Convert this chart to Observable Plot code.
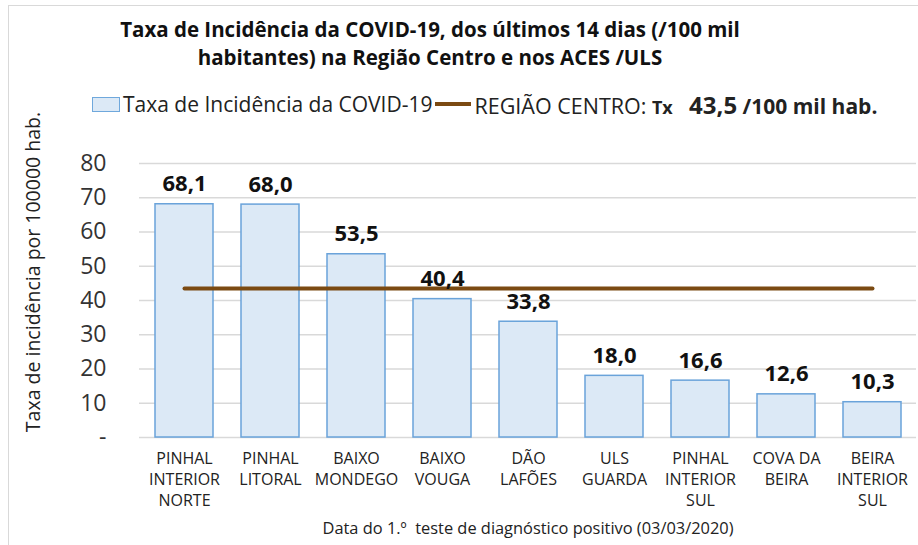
<!DOCTYPE html>
<html>
<head>
<meta charset="utf-8">
<script src="https://cdn.jsdelivr.net/npm/d3@7"></script>
<script src="https://cdn.jsdelivr.net/npm/@observablehq/plot@0.6"></script>
<style>
  html, body { margin: 0; padding: 0; background: #fff; }
  #wrap { position: relative; width: 918px; height: 545px; overflow: hidden; background: #fff; font-family: 'Open Sans', sans-serif; }
  #frame { position: absolute; left: 8px; top: 5px; width: 930px; height: 560px; border: 1px solid #d9d9d9; box-sizing: border-box; }
  #title { position: absolute; left: 0; top: 15px; width: 860px; text-align: center; font-weight: 700; font-size: 20.5px; line-height: 28px; color: #111; }
  #legend { position: absolute; left: 92px; top: 90px; height: 28px; white-space: nowrap; font-size: 21px; color: #222; display: flex; align-items: center; }
  .sw { display: inline-block; width: 28px; height: 15px; background: #dce9f6; border: 1px solid #6fa8dc; margin-right: 3px; box-sizing: border-box; }
  .ln { display: inline-block; width: 36px; height: 4px; background: #7b4a12; margin: 0 3px; }
  #ytitle { position: absolute; left: 32px; top: 272px; transform: translate(-50%, -50%) rotate(-90deg); white-space: nowrap; font-size: 19.5px; color: #222; }
  #plot { position: absolute; left: 0; top: 120px; }
</style>
</head>
<body>
<div id="wrap">
  <div id="frame"></div>
  <div id="title">Taxa de Incidência da COVID-19, dos últimos 14 dias (/100 mil<br>habitantes) na Região Centro e nos ACES /ULS</div>
  <div id="legend"><span class="sw"></span><span id="lg1"></span><span class="ln"></span><span id="lg2"></span></div>
  <div id="ytitle"></div>
  <div id="plot"></div>
</div>
<script>
const categories = [
  "PINHAL\nINTERIOR\nNORTE",
  "PINHAL\nLITORAL",
  "BAIXO\nMONDEGO",
  "BAIXO\nVOUGA",
  "DÃO\nLAFÕES",
  "ULS\nGUARDA",
  "PINHAL\nINTERIOR\nSUL",
  "COVA DA\nBEIRA",
  "BEIRA\nINTERIOR\nSUL"
];
const values = [68.1, 68.0, 53.5, 40.4, 33.8, 18.0, 16.6, 12.6, 10.3];
const regionRate = 43.5;
const yTicks = [0, 10, 20, 30, 40, 50, 60, 70, 80];
const seriesLabel = "Taxa de Incidência da COVID-19";
const regionLabel = "REGIÃO CENTRO:";
const yTitle = "Taxa de incidência por 100000 hab.";
const xTitle = "Data do 1.º  teste de diagnóstico positivo (03/03/2020)";

const fmt = v => v.toFixed(1).replace(".", ",");

document.getElementById("lg1").textContent = seriesLabel;
document.getElementById("lg2").innerHTML =
  '<span style="font-size:21.5px">' + regionLabel + '</span>&nbsp;<b style="font-size:18px">Tx</b>&nbsp;&nbsp;&nbsp;<b style="font-size:24px">' +
  fmt(regionRate) + '</b>&nbsp;<b style="font-size:21px">/100 mil hab.</b>';
document.getElementById("ytitle").textContent = yTitle;

const data = categories.map((c, i) => ({cat: c, v: values[i]}));
const lineData = [
  {cat: categories[0], v: regionRate},
  {cat: categories[categories.length - 1], v: regionRate}
];

const chart = Plot.plot({
  width: 918,
  height: 425,
  marginLeft: 139,
  marginRight: 2,
  marginTop: 43,
  marginBottom: 108,
  style: {fontFamily: "'Open Sans', sans-serif", background: "transparent", overflow: "visible"},
  x: {domain: categories, paddingInner: 0.33, paddingOuter: 0.15, label: null},
  y: {domain: [0, 80], label: null},
  marks: [
    Plot.gridY(yTicks, {stroke: "#d9d9d9", strokeOpacity: 1, strokeWidth: 1.5}),
    Plot.barY(data, {x: "cat", y: "v", fill: "#dce9f6", stroke: "#6aa3da", strokeWidth: 1.5}),
    Plot.line(lineData, {x: "cat", y: "v", stroke: "#7b4a12", strokeWidth: 4, strokeLinecap: "round"}),
    Plot.text(data, {x: "cat", y: "v", text: d => fmt(d.v), dy: -20, fontWeight: "bold", fontSize: 22, fill: "#111"}),
    Plot.axisY(yTicks, {tickSize: 0, tickPadding: 33, fontSize: 23, fill: "#333", tickFormat: d => d === 0 ? "-" : String(d), label: null}),
    Plot.axisX({tickSize: 0, tickPadding: 12, fontSize: 16, lineHeight: 1.3, fill: "#222", label: null}),
    Plot.text([xTitle], {frameAnchor: "bottom", dy: 96, fontSize: 16.4, fill: "#222"})
  ]
});
document.getElementById("plot").appendChild(chart);
</script>
</body>
</html>
